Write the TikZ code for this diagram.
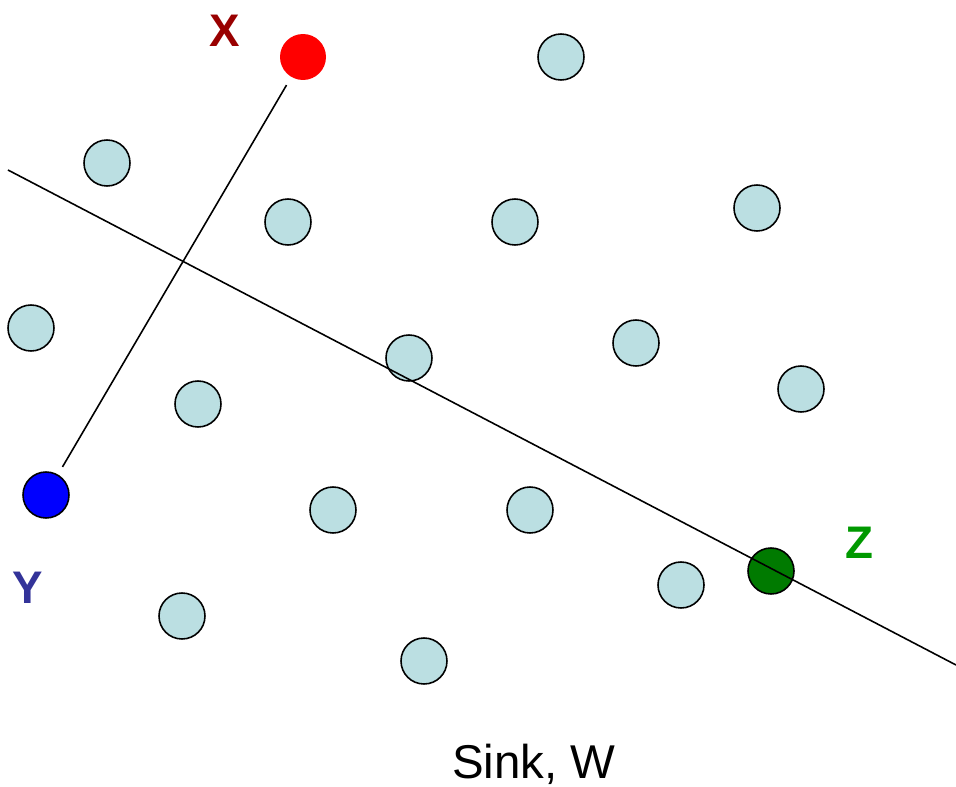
\documentclass[tikz,border=0pt]{standalone}
\usepackage{fontspec}
\setmainfont{Liberation Sans}
\usepackage{xcolor}
\usepackage{tikz}
\usetikzlibrary{positioning,calc}

\definecolor{sensorblue}{RGB}{187,223,226}
\definecolor{xred}{RGB}{153,0,0}
\definecolor{yblue}{RGB}{51,51,153}
\definecolor{zgreen}{RGB}{0,153,0}
\definecolor{darkgreen}{RGB}{0,122,0}

\begin{document}
\begin{tikzpicture}[x=0.02cm, y=-0.02cm]
        \tikzset{
            sensor/.style={draw, circle, fill=sensorblue, minimum size=0.92cm, inner sep=0pt, line width=0.9pt},
            special/.style={sensor, fill=#1},
            tag/.style={font=\fontsize{26}{30}\selectfont\bfseries},
            link/.style={line width=0.9pt}
        }
        \useasboundingbox (0,0) rectangle (956,787);

        % Sensors
        \node [sensor] (s1) at (561,57) {};
        \node [sensor] (s2) at (107,163) {};
        \node [sensor] (s3) at (288,222) {};
        \node [sensor] (s4) at (515,222) {};
        \node [sensor] (s5) at (757,208) {};
        \node [sensor] (s6) at (31,328) {};
        \node [sensor] (s7) at (409,358) {};
        \node [sensor] (s8) at (636,343) {};
        \node [sensor] (s9) at (801,389) {};
        \node [sensor] (s10) at (198,404) {};
        \node [sensor] (s11) at (333,510) {};
        \node [sensor] (s12) at (530,510) {};
        \node [sensor] (s13) at (681,585) {};
        \node [sensor] (s14) at (182,616) {};
        \node [sensor] (s15) at (424,661) {};

        % Marked nodes
        \node [special=red, draw=none] (x) at (303,57) {};
        \node [special=blue] (y) at (46,495) {};
        \node [special=darkgreen] (z) at (771,571) {};

        \node [tag, text=xred] (xlab) at (225,31) {X};
        \node [tag, text=yblue] (ylab) at (28,588) {Y};
        \node [tag, text=zgreen] (zlab) at (859,543) {Z};
        \node [font=\fontsize{27}{32}\selectfont] (sink) at (534,764) {Sink, W};

        % Lines
        \coordinate (lstart) at (8,170);
        \coordinate (lend) at (956,665);
        \draw [link] (lstart) -- (lend);
        \draw [link, shorten >=5pt, shorten <=5pt] (x) -- (y);
    \end{tikzpicture}
\end{document}
